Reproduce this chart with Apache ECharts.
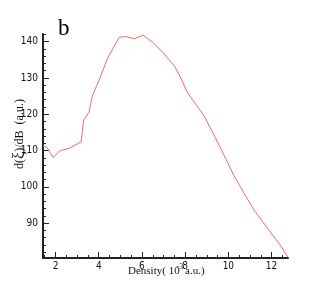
<!DOCTYPE html>
<html>
<head>
<meta charset="utf-8">
<script src="https://cdn.jsdelivr.net/npm/echarts@6/dist/echarts.min.js"></script>
<style>html,body{margin:0;padding:0;background:#fff}#c{width:327px;height:291px}</style>
</head>
<body>
<div id="c"></div>
<script>
// Density (10^-3 a.u.)
const density = [1.42,1.6,1.88,2.2,2.65,3.19,3.3,3.55,3.7,4.07,4.4,4.95,5.25,5.65,6.05,6.5,7.0,7.5,7.8,8.1,8.85,9.4,9.9,10.25,10.7,11.2,11.95,12.4,12.75];
// d(xi)/dB (a.u.)
const dxidB = [111.2,110.9,108.1,109.9,110.7,112.4,118.4,120.5,125,130.2,135.3,141.2,141.4,140.8,141.8,139.8,136.8,133.3,130,126,119.8,113.5,107.5,103.2,98.5,93.5,87.5,84,80.6];
const xTickLabels = [2,4,6,8,10,12];
const xMinorTicks = [1.5,2.5,3,3.5,4.5,5,5.5,6.5,7,7.5,8.5,9,9.5,10.5,11,11.5,12.5];
const yTickLabels = [90,100,110,120,130,140];
const yMinorTicks = [82,84,86,88,92,94,96,98,102,104,106,108,112,114,116,118,122,124,126,128,132,134,136,138,142];

const chart = echarts.init(document.getElementById('c'), null, {renderer:'canvas'});
const axisColor = '#222';
const labelFont = {fontFamily:'"Liberation Sans Narrow","DejaVu Sans Condensed","Liberation Sans",sans-serif', fontSize:10, color:'#111'};
const xMin = 1.42, xMax = 12.76, yMin = 80.4, yMax = 142.1;
chart.setOption({
  animation:false,
  backgroundColor:'#fff',
  grid:{left:43, top:34, width:245, height:224},
  xAxis:[{
    type:'value', min:xMin, max:xMax, position:'bottom',
    axisLine:{show:true, onZero:false, lineStyle:{color:axisColor, width:2}},
    axisTick:{show:true, inside:true, length:6, customValues:xTickLabels, lineStyle:{color:axisColor, width:1}},
    axisLabel:Object.assign({show:true, margin:3, customValues:xTickLabels}, labelFont),
    splitLine:{show:false}
  },{
    type:'value', min:xMin, max:xMax, position:'bottom',
    axisLine:{show:false},
    axisTick:{show:true, inside:true, length:3, customValues:xMinorTicks, lineStyle:{color:axisColor, width:1}},
    axisLabel:{show:false},
    splitLine:{show:false}
  }],
  yAxis:[{
    type:'value', min:yMin, max:yMax, position:'left',
    axisLine:{show:true, onZero:false, lineStyle:{color:axisColor, width:2}},
    axisTick:{show:true, inside:true, length:6, customValues:yTickLabels, lineStyle:{color:axisColor, width:1}},
    axisLabel:Object.assign({show:true, margin:5, customValues:yTickLabels}, labelFont),
    splitLine:{show:false}
  },{
    type:'value', min:yMin, max:yMax, position:'left',
    axisLine:{show:false},
    axisTick:{show:true, inside:true, length:3, customValues:yMinorTicks, lineStyle:{color:axisColor, width:1}},
    axisLabel:{show:false},
    splitLine:{show:false}
  }],
  series:[{
    type:'line', xAxisIndex:0, yAxisIndex:0,
    data:density.map((d,i)=>[d, dxidB[i]]),
    showSymbol:false, symbol:'none',
    lineStyle:{color:'#ef6b6b', width:1},
    clip:true
  }],
  graphic:[
    {type:'text', x:58, y:29, style:{text:'b', font:'23px "Liberation Serif", serif', fill:'#000', verticalAlign:'middle', align:'left'}},
    {type:'text', x:20, y:134, rotation:Math.PI/2,
      style:{text:'d({x|ξ})/dB  (a.u.)', font:'12px "Liberation Serif", serif', fill:'#111', align:'center', verticalAlign:'middle',
        rich:{x:{font:'16px "Liberation Serif", serif', fill:'#111'}}}},
    {type:'text', x:128, y:277, style:{text:'Density( 10', font:'11px "Liberation Serif", serif', fill:'#111', align:'left', verticalAlign:'bottom'}},
    {type:'text', x:176.5, y:271, style:{text:'-3', font:'8px "Liberation Serif", serif', fill:'#111', align:'left', verticalAlign:'bottom'}},
    {type:'text', x:185, y:277, style:{text:'a.u.)', font:'11px "Liberation Serif", serif', fill:'#111', align:'left', verticalAlign:'bottom'}}
  ]
});
</script>
</body>
</html>
